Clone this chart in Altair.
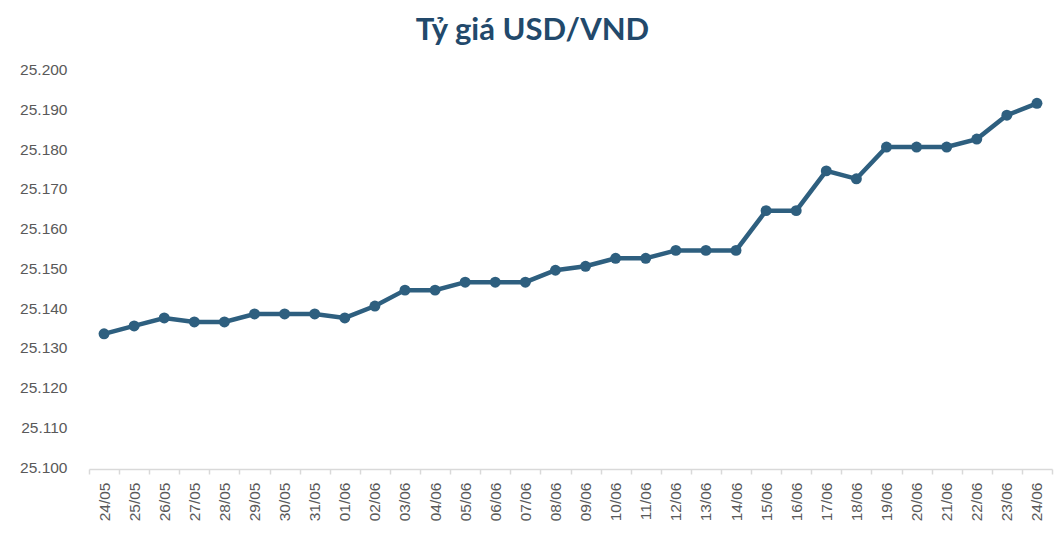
import altair as alt
import pandas as pd

dates = ["24/05", "25/05", "26/05", "27/05", "28/05", "29/05", "30/05", "31/05",
         "01/06", "02/06", "03/06", "04/06", "05/06", "06/06", "07/06", "08/06",
         "09/06", "10/06", "11/06", "12/06", "13/06", "14/06", "15/06", "16/06",
         "17/06", "18/06", "19/06", "20/06", "21/06", "22/06", "23/06", "24/06"]
rates = [25.134, 25.136, 25.138, 25.137, 25.137, 25.139, 25.139, 25.139,
         25.138, 25.141, 25.145, 25.145, 25.147, 25.147, 25.147, 25.150,
         25.151, 25.153, 25.153, 25.155, 25.155, 25.155, 25.165, 25.165,
         25.175, 25.173, 25.181, 25.181, 25.181, 25.183, 25.189, 25.192]
y_ticks = [25.10, 25.11, 25.12, 25.13, 25.14, 25.15, 25.16, 25.17, 25.18, 25.19, 25.20]

df = pd.DataFrame({"date": dates, "rate": rates})

LINE = "#2e5f7f"

x = alt.X("date:O", sort=dates, title=None, bandPosition=0.5,
          scale=alt.Scale(type="band", paddingInner=0, paddingOuter=0),
          axis=alt.Axis(labelAngle=-90, labelAlign="right", labelBaseline="middle",
                        labelFont="Liberation Sans", labelFontSize=15.5, labelColor="#595959",
                        labelPadding=8, tickBand="extent", ticks=True, tickSize=5,
                        tickColor="#d9d9d9", tickWidth=1.5, domainColor="#d9d9d9",
                        domainWidth=1.5, grid=False))
y = alt.Y("rate:Q", title=None,
          scale=alt.Scale(domain=[25.10, 25.20], nice=False, zero=False),
          axis=alt.Axis(values=y_ticks, format=".3f", labelFont="Liberation Sans",
                        labelFontSize=15.5, labelColor="#595959", labelPadding=22,
                        ticks=False, tickSize=0, domain=False, grid=False, labelOffset=-2))

line = alt.Chart(df).mark_line(color=LINE, strokeWidth=4.5).encode(x=x, y=y)
pts = alt.Chart(df).mark_point(color=LINE, filled=True, opacity=1, size=120).encode(x=x, y=y)

chart = (line + pts).properties(
    width=963, height=397.5,
    title=alt.TitleParams("Tỷ giá USD/VND", font="Lato", fontSize=31, fontWeight="bold",
                          color="#22496b", anchor="middle", dx=-38, dy=8, baseline="alphabetic",
                          offset=0),
    autosize=alt.AutoSizeParams(type="none"),
    padding={"left": 81, "top": 63.5, "right": 2, "bottom": 60},
).configure_view(stroke=None)

chart.save("out.html", embed_options={"renderer": "svg", "actions": False})
